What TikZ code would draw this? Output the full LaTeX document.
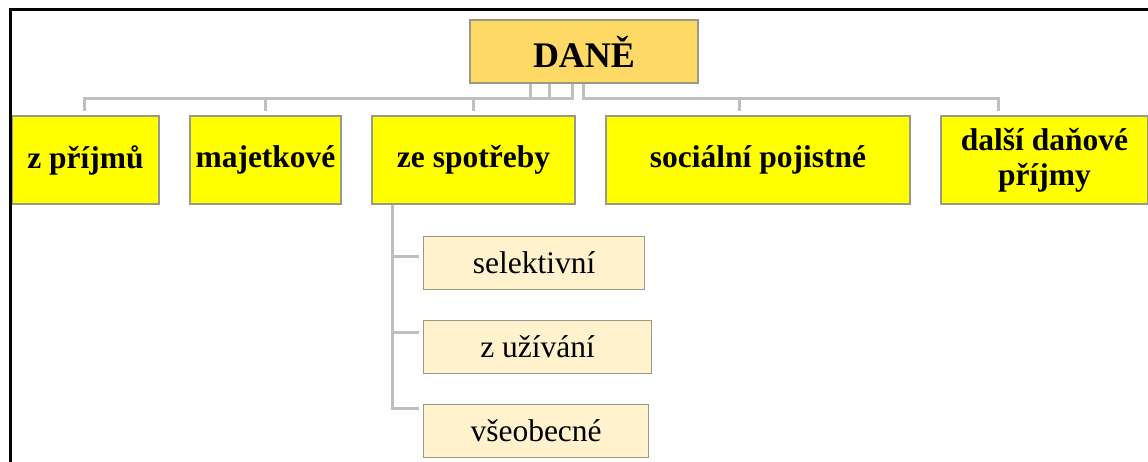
\documentclass[tikz,border=0pt]{standalone}
\usepackage{fontspec}
\setmainfont{Liberation Serif}

\definecolor{daneorange}{HTML}{FFD966}
\definecolor{catyellow}{HTML}{FFFF00}
\definecolor{subcream}{HTML}{FFF2CC}
\definecolor{linkgray}{HTML}{BFBFBF}
\definecolor{boxedge}{HTML}{999988}

\begin{document}
\begin{tikzpicture}[x=1pt,y=-1pt,
	every node/.style={inner sep=0pt,draw=boxedge,line width=1.2pt},
	topbox/.style={fill=daneorange,minimum width=228pt,minimum height=63pt,
		font=\fontsize{36}{40}\selectfont\bfseries},
	catbox/.style={fill=catyellow,minimum height=88pt,align=center,
		font=\fontsize{31.5}{35}\selectfont\bfseries},
	subbox/.style={fill=subcream,anchor=west,minimum height=53pt,
		font=\fontsize{31.5}{35}\selectfont},
	link/.style={draw=linkgray,line width=3pt,shorten >=4pt}]
	\useasboundingbox (0,0) rectangle (1148,462);
	% top of the tree
	\node[topbox] (dane) at (584,51.5) {DANĚ};
	% first level
	\node[catbox,minimum width=147pt] (prijmy) at (85.5,160) {z příjmů};
	\node[catbox,minimum width=151pt] (majetek) at (265.5,160) {majetkové};
	\node[catbox,minimum width=203pt] (spotreba) at (473.5,160) {ze spotřeby};
	\node[catbox,minimum width=304pt] (socialni) at (758,160) {sociální pojistné};
	\node[catbox,minimum width=207pt] (dalsi) at (1044.5,160) {další daňové\\příjmy};
	% second level
	\node[subbox,minimum width=221pt] (selekt) at (423,263) {selektivní};
	\node[subbox,minimum width=228pt] (uzivani) at (423,347) {z užívání};
	\node[subbox,minimum width=225pt] (vseob) at (423,431) {všeobecné};
	% connectors
	\draw[link] ([xshift=-54pt]dane.south) -- ++(0,15) -| ([xshift=-1.5pt]prijmy.north);
	\draw[link] ([xshift=-35pt]dane.south) -- ++(0,15) -| (majetek.north);
	\draw[link] ([xshift=-12pt]dane.south) -- ++(0,15) -| ([xshift=-0.5pt]spotreba.north);
	\draw[link] ([xshift=-1pt]dane.south) -- ++(0,15) -| ([xshift=-19pt]socialni.north);
	\draw[link] ([xshift=-1pt]dane.south) -- ++(0,15) -| ([xshift=-46.5pt]dalsi.north);
	\draw[link] ([xshift=21pt]spotreba.south west) |- ([yshift=6pt]selekt.west);
	\draw[link] ([xshift=21pt]spotreba.south west) |- ([yshift=15pt]uzivani.west);
	\draw[link] ([xshift=21pt]spotreba.south west) |- ([yshift=23pt]vseob.west);
	% frame
	\draw[line width=3pt] (10,470) -- (10,9.5) -- (1160,9.5);
\end{tikzpicture}
\end{document}
